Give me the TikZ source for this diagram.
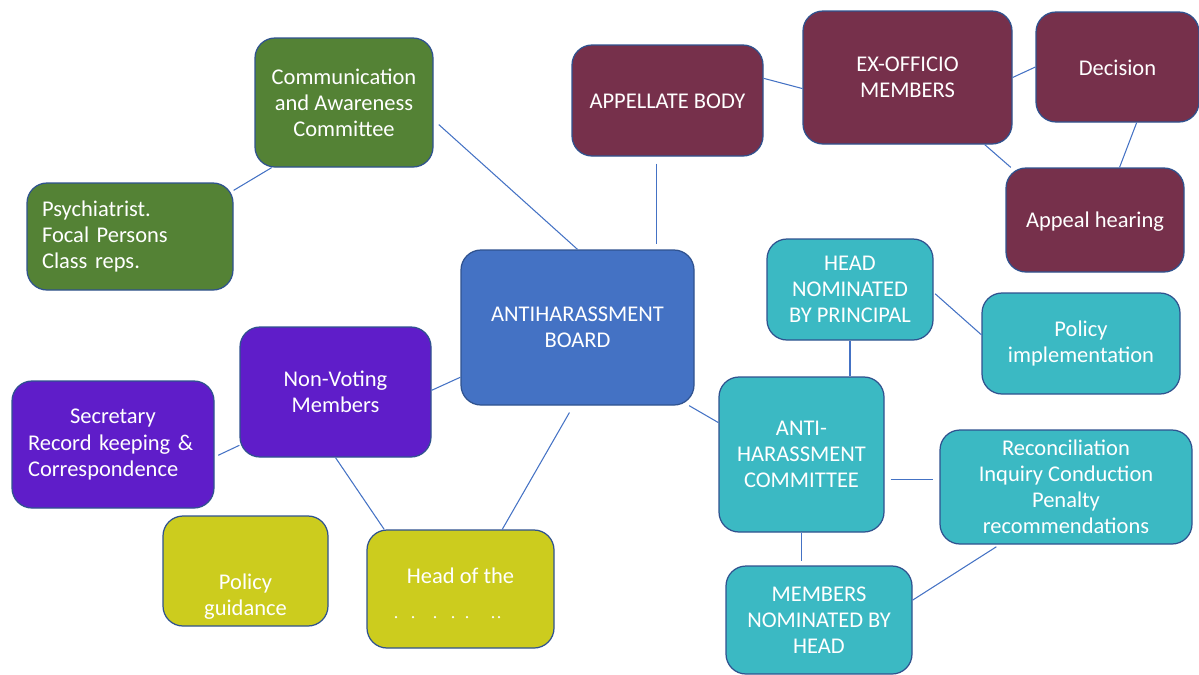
\documentclass[tikz,border=0pt]{standalone}
\usepackage{fontspec}
\setmainfont{Carlito}
\usetikzlibrary{calc}

\definecolor{boardblue}{HTML}{4472C4}
\definecolor{edgeblue}{HTML}{2F528F}
\definecolor{leafgreen}{HTML}{548235}
\definecolor{wine}{HTML}{76304B}
\definecolor{tealbox}{HTML}{3BB9C3}
\definecolor{violetbox}{HTML}{5F1DC9}
\definecolor{olivebox}{HTML}{CCCC1E}

\begin{document}
\begin{tikzpicture}[x=0.02cm, y=-0.02cm,
    txt/.style={text=white, align=center, font=\fontsize{12.8}{14.8}\selectfont},
    box/.style={txt, draw=edgeblue, line width=0.7pt, rounded corners=0.4cm, inner sep=0pt},
    oneline/.style={text height=#1, text depth=0pt},
    boxsize/.style 2 args={minimum width=#1*0.02cm, minimum height=#2*0.02cm},
    link/.style={draw=boardblue, line width=0.6pt}]
    \useasboundingbox (0,0) rectangle (1199,674);
    \clip (0,0) rectangle (1199,674);

    % Centre
    \node[box, fill=boardblue, boxsize={233}{155}] (board) at (577.5,327.5) {ANTIHARASSMENT\\BOARD};

    % Communication branch (green)
    \node[box, fill=leafgreen, boxsize={178}{129}] (comm) at (344,102.5) {Communication\\and Awareness\\Committee};
    \node[box, fill=leafgreen, boxsize={206}{107}, text width=3.52cm, align=left, inner xsep=0.3cm] (psych) at (130,236.5) {Psychiatrist.\\Focal Persons\\Class reps.};

    % Appellate branch (wine)
    \node[box, fill=wine, boxsize={191}{111}, oneline=0.9em] (appel) at (667.5,100.5) {APPELLATE BODY};
    \node[box, fill=wine, boxsize={209}{133}] (exoff) at (907.5,77.5) {EX-OFFICIO\\MEMBERS};
    \node[box, fill=wine, boxsize={163}{110}, oneline=0.95em] (decis) at (1117.5,67) {Decision};
    \node[box, fill=wine, boxsize={178}{104}, oneline=0.87em] (appeal) at (1095,220) {Appeal hearing};

    % Committee branch (teal)
    \node[box, fill=tealbox, boxsize={166}{101}] (headnom) at (850,289.5) {HEAD\\NOMINATED\\BY PRINCIPAL};
    \node[box, fill=tealbox, boxsize={198}{101}] (polimpl) at (1081,343.5) {Policy\\implementation};
    \node[box, fill=tealbox, boxsize={165}{155}] (ahc) at (801.5,454.5) {ANTI-\\HARASSMENT\\COMMITTEE};
    \node[box, fill=tealbox, boxsize={252}{114}] (recon) at (1066,487) {Reconciliation\\Inquiry Conduction\\Penalty\\recommendations};
    \node[box, fill=tealbox, boxsize={186}{108}] (members) at (819,620) {MEMBERS\\NOMINATED BY\\HEAD};

    % Non-voting branch (violet, olive)
    \node[box, fill=violetbox, boxsize={191}{130}] (nonvote) at (335.5,392) {Non-Voting\\Members};
    \node[box, fill=violetbox, boxsize={202}{127}, text width=3.4cm, align=left, inner xsep=0.32cm] (secr) at (113,444.5) {\hspace*{0.84cm}Secretary\\Record keeping \&\\Correspondence};
    \node[box, fill=olivebox, boxsize={165}{110}, label={[txt, yshift=-0.52cm]center:{Policy\\guidance}}] (guide) at (245.5,571) {};
    \node[box, fill=olivebox, boxsize={187}{118}, label={[txt, yshift=0.26cm]center:{Head of the}}] (headof) at (460.5,589) {};
    % leftover marks under the heading
    \foreach \dx in {-64.5,-47.5,-25.5,-7.5,6.5,32.5,38.5}
        \fill[white] ($(headof.center)+(\dx,28)$) circle (0.025cm);

    % Connectors
    \draw[link, shorten <=0.14cm] (comm.-11) -- (board.north);
    \draw[link] (psych.24) -- (comm.222);
    \draw[link, shorten <=0.14cm, shorten >=0.1cm] (appel.259) -- (appel.259 |- board.north);
    \draw[link] (appel.13) -- (exoff.186);
    \draw[link] (exoff.east) -- (decis.west);
    \draw[link] (exoff.-41) -- (appeal.148);
    \draw[link] (decis.-71) -- (appeal.65);
    \draw[link] (board.-35) -- (ahc.159);
    \draw[link] (headnom.south) -- (headnom.south |- ahc.north);
    \draw[link, shorten <=0.04cm] (headnom.-2) -- (polimpl.175);
    \draw[link, shorten <=0.12cm, shorten >=0.12cm] (ahc.-17) -- (ahc.-17 -| recon.west);
    \draw[link, shorten >=0.08cm] (ahc.south) -- (ahc.south |- members.north);
    \draw[link, shorten <=0.08cm] (recon.221) -- (members.12);
    \draw[link] (board.203) -- (nonvote.1);
    \draw[link, shorten >=0.08cm] (nonvote.209) -- (secr.-7);
    \draw[link] (nonvote.south) -- (headof.142);
    \draw[link, shorten <=0.16cm] (board.267) -- (headof.55);
\end{tikzpicture}
\end{document}
